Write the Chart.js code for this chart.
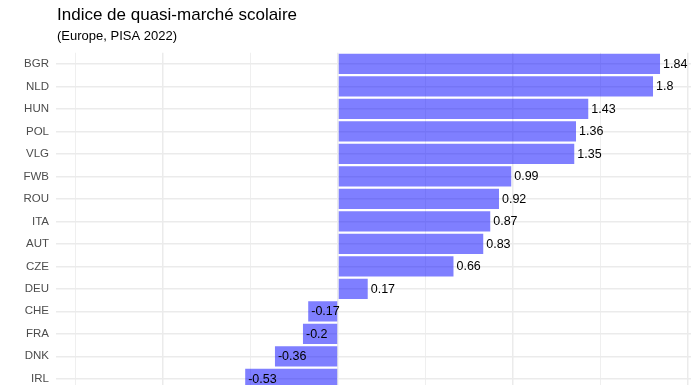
<!DOCTYPE html>
<html>
<head>
<meta charset="utf-8">
<script src="https://cdn.jsdelivr.net/npm/chart.js@4"></script>
<style>
  html, body { margin: 0; padding: 0; background: #fff; overflow: hidden; }
  canvas { display: block; }
</style>
</head>
<body>
<canvas id="chart" width="696" height="390"></canvas>
<script>
const countries = ['BGR', 'NLD', 'HUN', 'POL', 'VLG', 'FWB', 'ROU', 'ITA', 'AUT', 'CZE', 'DEU', 'CHE', 'FRA', 'DNK', 'IRL'];
const indexValues = [1.84, 1.8, 1.43, 1.36, 1.35, 0.99, 0.92, 0.87, 0.83, 0.66, 0.17, -0.17, -0.2, -0.36, -0.53];
const gridValues = [-1.5, -1, -0.5, 0, 0.5, 1, 1.5, 2];
const titleText = 'Indice de quasi-marché scolaire';
const subtitleText = '(Europe, PISA 2022)';

const FONT = '"Liberation Sans", Arial, sans-serif';

// titre et sous-titre alignés sur la zone de tracé
const titlePlugin = {
  id: 'titles',
  afterDraw(chart) {
    const ctx = chart.ctx;
    ctx.save();
    ctx.fillStyle = '#000';
    ctx.textAlign = 'left';
    ctx.textBaseline = 'alphabetic';
    ctx.font = '17px ' + FONT;
    ctx.fillText(titleText, 57, 19.5);
    ctx.font = '13px ' + FONT;
    ctx.fillText(subtitleText, 57, 40);
    ctx.restore();
  }
};

// étiquettes de valeur au bout de chaque barre
const valueLabels = {
  id: 'valueLabels',
  afterDatasetsDraw(chart) {
    const ctx = chart.ctx;
    const xScale = chart.scales.x;
    const meta = chart.getDatasetMeta(0);
    ctx.save();
    ctx.fillStyle = '#000';
    ctx.font = '12.5px ' + FONT;
    ctx.textAlign = 'left';
    ctx.textBaseline = 'middle';
    meta.data.forEach((bar, i) => {
      const v = indexValues[i];
      ctx.fillText(String(v), xScale.getPixelForValue(v) + 3, bar.y + 0.5);
    });
    ctx.restore();
  }
};

new Chart(document.getElementById('chart'), {
  type: 'bar',
  data: {
    labels: countries,
    datasets: [{
      data: indexValues,
      backgroundColor: 'rgba(0, 0, 255, 0.5)',
      borderWidth: 0,
      barPercentage: 0.9,
      categoryPercentage: 1
    }]
  },
  options: {
    indexAxis: 'y',
    responsive: false,
    animation: false,
    layout: { padding: { top: 52.75, right: 5, bottom: 0, left: 0 } },
    plugins: {
      legend: { display: false },
      tooltip: { enabled: false }
    },
    scales: {
      x: {
        type: 'linear',
        min: -1.611,
        max: 2.017,
        afterBuildTicks(scale) {
          scale.ticks = gridValues.map(v => ({ value: v }));
        },
        afterFit(scale) { scale.height = 0; },
        ticks: { display: false },
        border: { display: false },
        grid: {
          drawTicks: false,
          color: '#ebebeb',
          lineWidth: ctx => (Number.isInteger(ctx.tick.value) ? 1.5 : 0.8)
        }
      },
      y: {
        afterFit(scale) {
          scale.width = 56;
          scale.paddingTop = 0;
          scale.paddingBottom = 0;
        },
        border: { display: false },
        grid: { offset: false, drawTicks: false, color: '#ebebeb', lineWidth: 1.5 },
        ticks: {
          padding: 7,
          color: '#4d4d4d',
          font: { family: FONT, size: 11.5 }
        }
      }
    }
  },
  plugins: [titlePlugin, valueLabels]
});
</script>
</body>
</html>
